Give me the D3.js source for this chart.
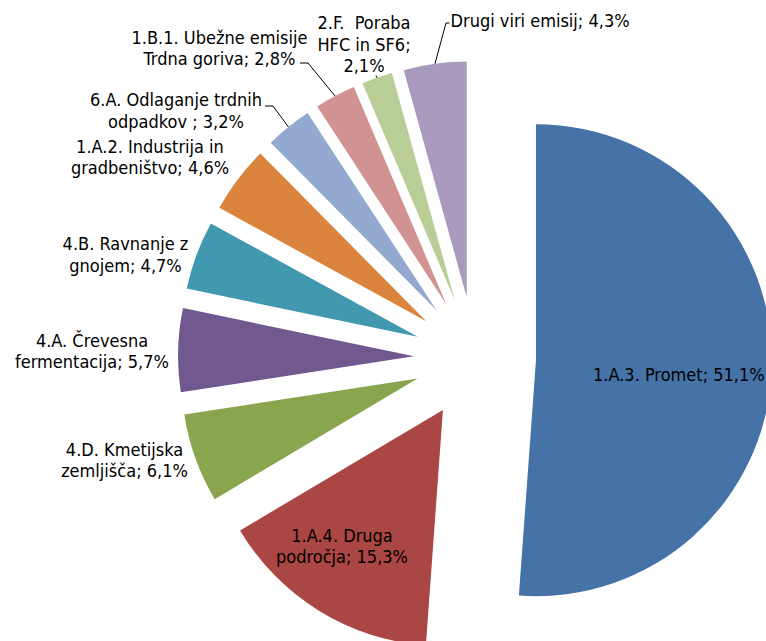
<!DOCTYPE html>
<html>
<head>
<meta charset="utf-8">
<script src="https://cdn.jsdelivr.net/npm/d3@7"></script>
<style>
  html, body { margin: 0; padding: 0; background: #fff; }
  svg { display: block; }
  text { font-family: "DejaVu Sans Condensed", "DejaVu Sans", sans-serif; font-stretch: condensed; font-size: 18px; fill: #000; white-space: pre; }
</style>
</head>
<body>
<svg id="chart" width="766" height="641"></svg>
<script>
// ---- data ----
const categories = [
  "1.A.3. Promet",
  "1.A.4. Druga področja",
  "4.D. Kmetijska zemljišča",
  "4.A. Črevesna fermentacija",
  "4.B. Ravnanje z gnojem",
  "1.A.2. Industrija in gradbeništvo",
  "6.A. Odlaganje trdnih odpadkov ",
  "1.B.1. Ubežne emisije Trdna goriva",
  "2.F.  Poraba HFC in SF6",
  "Drugi viri emisij"
];
const values = [51.1, 15.3, 6.1, 5.7, 4.7, 4.6, 3.2, 2.8, 2.1, 4.3];
const valueLabels = ["51,1%", "15,3%", "6,1%", "5,7%", "4,7%", "4,6%", "3,2%", "2,8%", "2,1%", "4,3%"];
const labelLines = [
  ["1.A.3. Promet; 51,1%"],
  ["1.A.4. Druga", "področja; 15,3%"],
  ["4.D. Kmetijska", "zemljišča; 6,1%"],
  ["4.A. Črevesna", "fermentacija; 5,7%"],
  ["4.B. Ravnanje z", "gnojem; 4,7%"],
  ["1.A.2. Industrija in", "gradbeništvo; 4,6%"],
  ["6.A. Odlaganje trdnih", "odpadkov ; 3,2%"],
  ["1.B.1. Ubežne emisije", "Trdna goriva; 2,8%"],
  ["2.F.  Poraba", "HFC in SF6;", "2,1%"],
  ["Drugi viri emisij; 4,3%"]
];
const colors = ["#4572A7", "#AA4643", "#89A54E", "#71588F", "#4198AF", "#DB843D", "#93A9CF", "#D19392", "#B9CD96", "#A99BBD"];

// ---- layout (positions, not data) ----
const center = [475, 358];
const radius = 236;
const explode = 61;
const lineH = 21.6;
// label anchor: x, first baseline y, text-anchor
const labelLayout = [
  {x: 593, y: 380.5, anchor: "start"},
  {x: 342, y: 541.7, anchor: "middle"},
  {x: 124.5, y: 455.5, anchor: "middle"},
  {x: 92, y: 346.7, anchor: "middle"},
  {x: 125.5, y: 250.2, anchor: "middle"},
  {x: 150, y: 152.8, anchor: "middle"},
  {x: 176, y: 106.2, anchor: "middle"},
  {x: 219.5, y: 43.6, anchor: "middle"},
  {x: 364, y: 29.2, anchor: "middle"},
  {x: 450.5, y: 26.5, anchor: "start"}
];
// leader line starting points (near labels); null = no leader
const leaderStarts = [
  null, null, null, null, null, null,
  [[265, 106], [273, 106]],
  [[300, 63], [308, 63]],
  [[376, 75.5]],
  [[449.5, 23], [446, 23]]
];

const svg = d3.select("#chart");
const g = svg.append("g").attr("transform", `translate(${center[0]},${center[1]})`);

const pie = d3.pie().sort(null).value(d => d).startAngle(0).endAngle(2 * Math.PI);
const arcs = pie(values);
const arc = d3.arc().innerRadius(0).outerRadius(radius);

const mid = d => (d.startAngle + d.endAngle) / 2;
const dir = a => [Math.sin(a), -Math.cos(a)];

g.selectAll("path.slice")
  .data(arcs)
  .join("path")
  .attr("class", "slice")
  .attr("d", arc)
  .attr("fill", (d, i) => colors[i])
  .attr("transform", d => {
    const [dx, dy] = dir(mid(d));
    return `translate(${dx * explode},${dy * explode})`;
  });

// leader lines
const line = d3.line();
arcs.forEach((d, i) => {
  if (!leaderStarts[i]) return;
  const [dx, dy] = dir(mid(d));
  const end = [center[0] + dx * (explode + radius), center[1] + dy * (explode + radius)];
  svg.append("path")
    .attr("d", line(leaderStarts[i].concat([end])))
    .attr("fill", "none")
    .attr("stroke", "#000")
    .attr("stroke-width", 1);
});

// labels
labelLines.forEach((lines, i) => {
  const L = labelLayout[i];
  const t = svg.append("text")
    .attr("text-anchor", L.anchor)
    .attr("x", L.x)
    .attr("y", L.y);
  lines.forEach((s, k) => {
    t.append("tspan").attr("x", L.x).attr("y", L.y + k * lineH).text(s);
  });
});
</script>
</body>
</html>
